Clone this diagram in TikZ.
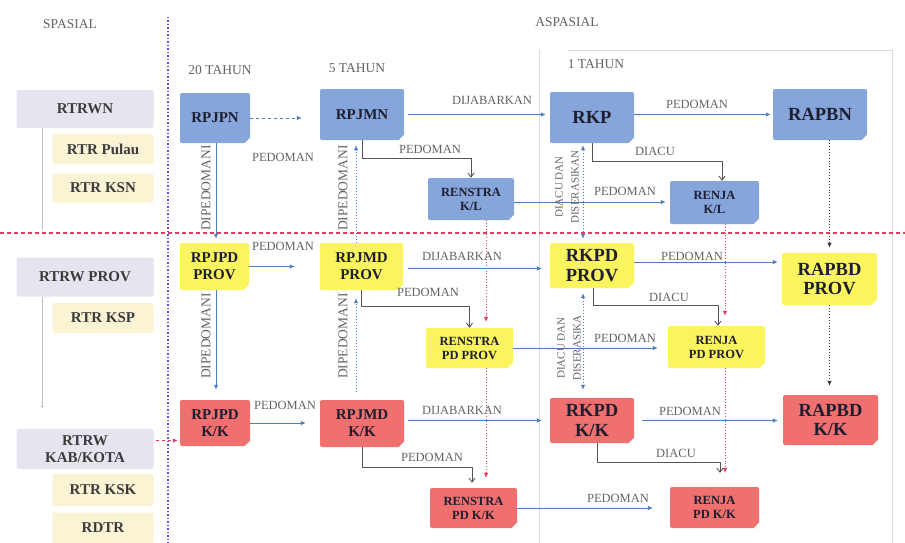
\documentclass[tikz,border=0pt]{standalone}
\usepackage{fontspec}
\setmainfont{Liberation Serif}
\usetikzlibrary{arrows.meta}
\definecolor{bbox}{RGB}{134,165,218}
\definecolor{ybox}{RGB}{250,245,95}
\definecolor{rbox}{RGB}{240,112,112}
\definecolor{lav}{RGB}{230,228,238}
\definecolor{cream}{RGB}{250,244,212}
\definecolor{lblue}{RGB}{75,125,195}
\definecolor{ntext}{RGB}{30,30,48}
\definecolor{sidetext}{RGB}{60,60,60}
\definecolor{lgrey}{RGB}{100,100,100}
\definecolor{elbc}{RGB}{85,85,85}
\definecolor{vblue}{RGB}{85,85,225}
\definecolor{hred}{RGB}{232,60,95}
\definecolor{framec}{RGB}{218,218,218}
\begin{document}
\begin{tikzpicture}[x=1pt,y=-1pt,
  box/.style={rectangle, rounded corners=2pt, inner sep=0pt, align=center, text=ntext},
  bl/.style={box, fill=bbox},
  yl/.style={box, fill=ybox},
  rd/.style={box, fill=rbox},
  sp/.style={box, fill=lav, text=sidetext},
  sub/.style={box, fill=cream, text=sidetext},
  fbig/.style={font=\fontsize{18.5}{19.5}\selectfont\bfseries},
  fmid/.style={font=\fontsize{15}{17}\selectfont\bfseries},
  fsmall/.style={font=\fontsize{12.5}{14}\selectfont\bfseries},
  lab/.style={text=lgrey, font=\fontsize{12.5}{14}\selectfont, inner sep=0pt},
  toplab/.style={text=lgrey, font=\fontsize{13.5}{15}\selectfont, inner sep=0pt},
  bar/.style={draw=lblue, line width=0.9pt, -{Latex[length=5pt,width=4.5pt]}},
  dbar/.style={draw=lblue, line width=1pt, dotted, -{Latex[length=5pt,width=4.5pt]}},
  ddbar/.style={draw=lblue, line width=1pt, dotted, {Latex[length=5pt,width=4.5pt]}-{Latex[length=5pt,width=4.5pt]}},
  kdot/.style={draw=black!80, line width=0.9pt, dotted, -{Latex[length=5pt,width=4.5pt]}},
  rdot/.style={draw=hred, line width=0.8pt, dotted, -{Latex[length=5pt,width=4.5pt]}},
  elb/.style={draw=elbc, line width=0.9pt, -{Straight Barb[length=4pt,width=6pt]}},
  side/.style={draw=black!25, line width=0.7pt}
]
\useasboundingbox (0,0) rectangle (905,543);
\fill[white] (0,0) rectangle (905,543);

% frame of 1 TAHUN
\draw[framec, line width=0.8pt] (539,50) -- (539,543);
\draw[framec, line width=0.8pt] (568,50) -- (892,50) -- (892,543);

% separators
\draw[vblue, line width=1.3pt, dash pattern=on 1.5pt off 2pt] (168,17) -- (168,543);
\draw[hred, line width=1.1pt, dash pattern=on 4pt off 3pt] (0,233) -- (905,233);

% headings
\node[toplab] (hsp) at (70,24) {SPASIAL};
\node[toplab] (hasp) at (567,22) {ASPASIAL};
\node[toplab] (h20) at (220,70) {20 TAHUN};
\node[toplab] (h5) at (357,68) {5 TAHUN};
\node[toplab] (h1) at (596,64) {1 TAHUN};

% spatial side
\node[sp, fmid, minimum width=137pt, minimum height=38pt] (rtrwn) at (85,109) {RTRWN};
\node[sub, fmid, minimum width=101pt, minimum height=30pt] (rtrpulau) at (103,149) {RTR Pulau};
\node[sub, fmid, minimum width=101pt, minimum height=29pt] (rtrksn) at (103,188) {RTR KSN};
\node[sp, fmid, minimum width=137pt, minimum height=39pt] (rtrwprov) at (85,277) {RTRW PROV};
\node[sub, fmid, minimum width=101pt, minimum height=30pt] (rtrksp) at (103,318) {RTR KSP};
\node[sp, fmid, minimum width=137pt, minimum height=40pt] (rtrwkk) at (85,449) {RTRW\\KAB/KOTA};
\node[sub, fmid, minimum width=101pt, minimum height=32pt] (rtrksk) at (103,490) {RTR KSK};
\node[sub, fmid, minimum width=101pt, minimum height=31pt] (rdtr) at (103,528) {RDTR};
\draw[side] ([xshift=26pt]rtrwn.south west) -- ++(0,102);
\draw[side, -{Circle[length=2.5pt]}] ([xshift=26pt]rtrwprov.south west) -- ++(0,111);

% national row
\node[bl, fmid, minimum width=70pt, minimum height=50pt] (rpjpn) at (215,118) {RPJPN};
\node[bl, fmid, minimum width=84pt, minimum height=51pt] (rpjmn) at (362,114.5) {RPJMN};
\node[bl, fbig, minimum width=84pt, minimum height=51pt] (rkp) at (592,117.5) {RKP};
\node[bl, fbig, minimum width=94pt, minimum height=51pt] (rapbn) at (820,114.5) {RAPBN};
\node[bl, fsmall, minimum width=86pt, minimum height=42pt] (renkl) at (471,199) {RENSTRA\\K/L};
\node[bl, fsmall, minimum width=89pt, minimum height=43pt] (renjakl) at (714.5,202.5) {RENJA\\K/L};

% province row
\node[yl, fmid, minimum width=69pt, minimum height=47pt] (rpjpdp) at (214.5,266.5) {RPJPD\\PROV};
\node[yl, fmid, minimum width=83pt, minimum height=47pt] (rpjmdp) at (361.5,266.5) {RPJMD\\PROV};
\node[yl, fsmall, minimum width=87pt, minimum height=40pt] (renpdp) at (469.5,348) {RENSTRA\\PD PROV};
\node[yl, fbig, minimum width=84pt, minimum height=45pt] (rkpdp) at (592,265.5) {RKPD\\PROV};
\node[yl, fsmall, minimum width=97pt, minimum height=42pt] (renjapdp) at (716.5,347) {RENJA\\PD PROV};
\node[yl, fbig, minimum width=95pt, minimum height=52pt] (rapbdp) at (829.5,279) {RAPBD\\PROV};

% kab/kota row
\node[rd, fmid, minimum width=70pt, minimum height=46pt] (rpjpdk) at (215,423) {RPJPD\\K/K};
\node[rd, fmid, minimum width=84pt, minimum height=47pt] (rpjmdk) at (362,423.5) {RPJMD\\K/K};
\node[rd, fsmall, minimum width=87pt, minimum height=40pt] (renpdk) at (473.5,508) {RENSTRA\\PD K/K};
\node[rd, fbig, minimum width=84pt, minimum height=45pt] (rkpdk) at (592,420.5) {RKPD\\K/K};
\node[rd, fsmall, minimum width=89pt, minimum height=41pt] (renjapdk) at (714.5,507.5) {RENJA\\PD K/K};
\node[rd, fbig, minimum width=95pt, minimum height=50pt] (rapbdk) at (830.5,420) {RAPBD\\K/K};

% folded bottom-right corners
\foreach \n in {rpjpn,rpjmn,rkp,rapbn,renkl,renjakl,rpjpdp,rpjmdp,renpdp,rkpdp,renjapdp,rapbdp,rpjpdk,rpjmdk,renpdk,rkpdk,renjapdk,rapbdk}
  \fill[white] ([xshift=0.5pt,yshift=-0.5pt]\n.south east) -- ++(-6.5,0) -- ++(6.5,-6.5) -- cycle;

% ---- row 1 connectors
\draw[bar, dashed, shorten >=18pt] (rpjpn.east) -- (rpjpn.east -| rpjmn.west);
\node[lab] (l1) at (283,157) {PEDOMAN};
\draw[bar, shorten <=4pt, shorten >=4pt] (rpjmn.east) -- (rpjmn.east -| rkp.west);
\node[lab] (l2) at (492,100) {DIJABARKAN};
\draw[bar, shorten >=2pt] ([yshift=3pt]rkp.east) -- ([yshift=3pt]rkp.east -| rapbn.west);
\node[lab] (l3) at (697,104) {PEDOMAN};
\draw[elb] (rpjmn.south) -- ++(0,18) -| (renkl.north);
\node[lab] (l4) at (430,149) {PEDOMAN};
\draw[elb] (rkp.south) -- ++(0,18) -| ([xshift=7.5pt]renjakl.north);
\node[lab] (l5) at (655,151) {DIACU};
\draw[bar, shorten >=4pt] ([yshift=-3pt]renkl.east) -- ([yshift=-3pt]renkl.east -| renjakl.west);
\node[lab] (l6) at (625,191) {PEDOMAN};

% verticals national -> province
\draw[bar, shorten >=4pt] ([xshift=1pt]rpjpn.south) -- ([xshift=1.5pt]rpjpdp.north);
\node[lab, rotate=90, font=\fontsize{13.5}{15}\selectfont] (l7) at (206,188) {DIPEDOMANI};
\draw[dbar, shorten >=5pt] ([xshift=-5.5pt]rpjmdp.north) -- ([xshift=-5.5pt]rpjmdp.north |- rpjmn.south);
\node[lab, rotate=90, font=\fontsize{13.5}{15}\selectfont] (l8) at (343,188) {DIPEDOMANI};
\draw[ddbar, shorten >=4pt, shorten <=2pt] ([xshift=-9pt]rkp.south) -- ([xshift=-9pt]rkp.south |- rkpdp.north);
\node[lab, rotate=90, align=center, font=\fontsize{11}{16}\selectfont] (l9) at (567,187) {DIACU DAN\\DISERASIKAN};
\draw[kdot, shorten >=5pt] (rapbdp.north |- rapbn.south) -- (rapbdp.north);
\draw[rdot, shorten >=6pt] ([xshift=15pt]renkl.south) -- ([xshift=15pt]renkl.south |- renpdp.north);
\draw[rdot, shorten >=10pt] ([xshift=10.5pt]renjakl.south) -- ([xshift=10.5pt]renjakl.south |- renjapdp.north);

% ---- row 2 connectors
\draw[bar, shorten >=25pt] (rpjpdp.east) -- (rpjpdp.east -| rpjmdp.west);
\node[lab] (l10) at (283,246) {PEDOMAN};
\draw[bar, shorten <=5pt, shorten >=8pt] ([yshift=-2pt]rpjmdp.east) -- ([yshift=-2pt]rpjmdp.east -| rkpdp.west);
\node[lab] (l11) at (462,256) {DIJABARKAN};
\draw[bar, shorten >=4pt] ([yshift=3.5pt]rkpdp.east) -- ([yshift=3.5pt]rkpdp.east -| rapbdp.west);
\node[lab] (l12) at (692,256) {PEDOMAN};
\draw[elb] (rpjmdp.south) -- ++(0,16) -| (renpdp.north);
\node[lab] (l13) at (428,292) {PEDOMAN};
\draw[elb] ([xshift=1pt]rkpdp.south) -- ++(0,17) -| ([xshift=1.5pt]renjapdp.north);
\node[lab] (l14) at (669,297) {DIACU};
\draw[bar, shorten >=10pt] (renpdp.east) -- (renpdp.east -| renjapdp.west);
\node[lab] (l15) at (625,338) {PEDOMAN};

% verticals province -> kab/kota
\draw[bar, shorten >=10pt] ([xshift=1.5pt]rpjpdp.south) -- ([xshift=1pt]rpjpdk.north);
\node[lab, rotate=90, font=\fontsize{13.5}{15}\selectfont] (l16) at (206,336) {DIPEDOMANI};
\draw[dbar, shorten >=8pt, shorten <=8pt] ([xshift=-6pt]rpjmdk.north) -- ([xshift=-6pt]rpjmdk.north |- rpjmdp.south);
\node[lab, rotate=90, font=\fontsize{13.5}{15}\selectfont] (l17) at (343,336) {DIPEDOMANI};
\draw[ddbar, shorten >=8pt, shorten <=5pt] ([xshift=-9pt]rkpdp.south) -- ([xshift=-9pt]rkpdp.south |- rkpdk.north);
\node[lab, rotate=90, align=center, font=\fontsize{11}{16}\selectfont] (l18) at (569,348) {DIACU DAN\\DISERASIKA};
\draw[kdot, shorten >=9pt] (rapbdp.south) -- (rapbdp.south |- rapbdk.north);
\draw[rdot, shorten >=10pt] ([xshift=16.5pt]renpdp.south) -- ([xshift=16.5pt]renpdp.south |- renpdk.north);
\draw[rdot, shorten >=14pt] ([xshift=8.5pt]renjapdp.south) -- ([xshift=8.5pt]renjapdp.south |- renjapdk.north);

% ---- row 3 connectors
\draw[bar, shorten >=14pt] (rpjpdk.east) -- (rpjpdk.east -| rpjmdk.west);
\node[lab] (l19) at (285,405) {PEDOMAN};
\draw[bar, shorten <=4pt, shorten >=8pt] ([yshift=3pt]rpjmdk.east) -- ([yshift=3pt]rpjmdk.east -| rkpdk.west);
\node[lab] (l20) at (462,410) {DIJABARKAN};
\draw[bar, shorten <=8pt, shorten >=5pt] (rkpdk.east) -- (rkpdk.east -| rapbdk.west);
\node[lab] (l21) at (690,411) {PEDOMAN};
\draw[elb, shorten >=5pt] (rpjmdk.south) -- ++(0,20) -| ([xshift=-1.5pt]renpdk.north);
\node[lab] (l22) at (432,457) {PEDOMAN};
\draw[elb, shorten >=14pt] ([xshift=5pt]rkpdk.south) -- ++(0,19) -| ([xshift=5.5pt]renjapdk.north);
\node[lab] (l23) at (676,453) {DIACU};
\draw[bar, shorten >=17pt] (renpdk.east) -- (renpdk.east -| renjapdk.west);
\node[lab] (l24) at (618,498) {PEDOMAN};

% spatial to RPJPD K/K
\draw[draw=hred, line width=0.9pt, dashed, -{Latex[length=5pt,width=4.5pt]}, shorten <=2pt, shorten >=2pt] ([yshift=8.5pt]rtrwkk.east) -- ([yshift=8.5pt]rtrwkk.east -| rpjpdk.west);
\end{tikzpicture}
\end{document}
